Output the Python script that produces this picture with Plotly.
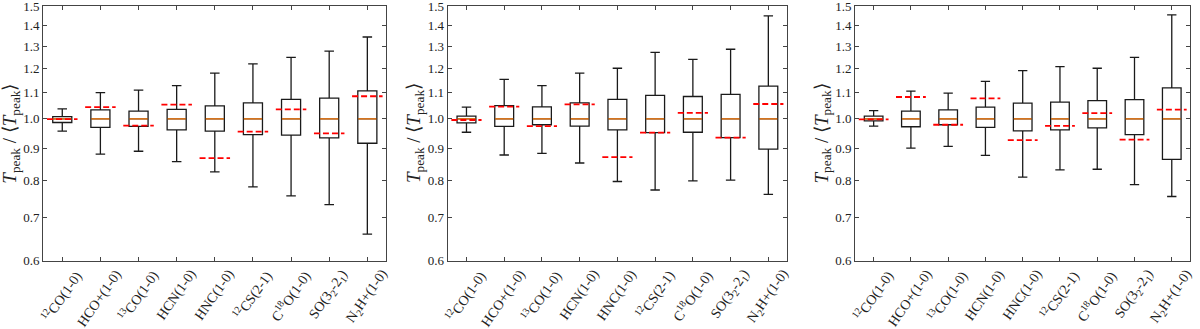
import math

import plotly.graph_objects as go

# カテゴリ (分子輝線)
lines = [
    "<sup>12</sup>CO(1-0)", "HCO+(1-0)", "<sup>13</sup>CO(1-0)", "HCN(1-0)",
    "HNC(1-0)", "<sup>12</sup>CS(2-1)", "C<sup>18</sup>O(1-0)",
    "SO(3<sub>2</sub>-2<sub>1</sub>)", "N<sub>2</sub>H+(1-0)",
]

# パネル1
p1_low = [0.957, 0.881, 0.890, 0.857, 0.826, 0.783, 0.758, 0.734, 0.660]
p1_q1 = [0.987, 0.970, 0.973, 0.961, 0.957, 0.945, 0.943, 0.934, 0.916]
p1_med = [1.0, 1.0, 1.0, 1.0, 1.0, 1.0, 1.0, 1.0, 1.0]
p1_q3 = [1.008, 1.033, 1.028, 1.035, 1.048, 1.059, 1.073, 1.078, 1.106]
p1_high = [1.037, 1.099, 1.109, 1.127, 1.179, 1.219, 1.248, 1.276, 1.343]
p1_ref = [0.999, 1.043, 0.976, 1.053, 0.868, 0.955, 1.035, 0.949, 1.085]

# パネル2
p2_low = [0.953, 0.878, 0.883, 0.853, 0.798, 0.774, 0.800, 0.802, 0.762]
p2_q1 = [0.986, 0.973, 0.979, 0.974, 0.961, 0.952, 0.953, 0.935, 0.897]
p2_med = [1.0, 1.0, 1.0, 1.0, 1.0, 1.0, 1.0, 1.0, 1.0]
p2_q3 = [1.010, 1.049, 1.044, 1.059, 1.073, 1.088, 1.084, 1.092, 1.125]
p2_high = [1.043, 1.153, 1.127, 1.179, 1.200, 1.271, 1.239, 1.285, 1.449]
p2_ref = [0.996, 1.045, 0.974, 1.054, 0.871, 0.952, 1.022, 0.935, 1.055]

# パネル3
p3_low = [0.974, 0.900, 0.906, 0.877, 0.811, 0.832, 0.834, 0.789, 0.756]
p3_q1 = [0.993, 0.972, 0.979, 0.970, 0.958, 0.961, 0.968, 0.945, 0.864]
p3_med = [1.0, 1.0, 1.0, 1.0, 1.0, 1.0, 1.0, 1.0, 1.0]
p3_q3 = [1.010, 1.028, 1.033, 1.043, 1.058, 1.062, 1.068, 1.072, 1.118]
p3_high = [1.030, 1.105, 1.097, 1.145, 1.190, 1.207, 1.200, 1.248, 1.454]
p3_ref = [0.998, 1.082, 0.979, 1.077, 0.926, 0.975, 1.021, 0.928, 1.034]

y_ticks = [0.6, 0.7, 0.8, 0.9, 1.0, 1.1, 1.2, 1.3, 1.4, 1.5]

panels = [
    (p1_low, p1_q1, p1_med, p1_q3, p1_high, p1_ref),
    (p2_low, p2_q1, p2_med, p2_q3, p2_high, p2_ref),
    (p3_low, p3_q1, p3_med, p3_q3, p3_high, p3_ref),
]
domains = [(0.036, 0.322), (0.373, 0.656), (0.7125, 0.992)]

FONT = "Liberation Serif"
AX_COLOR = "#444444"
pos = list(range(len(lines)))

fig = go.Figure()
layout = {}
annotations = []

for k, (low, q1, med, q3, high, ref) in enumerate(panels):
    sfx = "" if k == 0 else str(k + 1)
    xa, ya = "x" + sfx, "y" + sfx

    fig.add_trace(go.Box(
        x=pos, q1=q1, median=med, q3=q3, lowerfence=low, upperfence=high,
        xaxis=xa, yaxis=ya,
        width=0.5, whiskerwidth=0.5,
        line={"color": "#1a1a1a", "width": 1.3},
        fillcolor="rgba(0,0,0,0)",
        boxpoints=False, hoverinfo="skip",
    ))

    # 中央値 (オレンジ)
    mx, my = [], []
    for i, m in zip(pos, med):
        mx += [i - 0.24, i + 0.24, None]
        my += [m, m, None]
    fig.add_trace(go.Scatter(
        x=mx, y=my, mode="lines", xaxis=xa, yaxis=ya,
        line={"color": "#ff7f0e", "width": 1.2}, hoverinfo="skip",
    ))

    # 参照値 (赤破線)
    rx, ry = [], []
    for i, r in zip(pos, ref):
        rx += [i - 0.4, i + 0.4, None]
        ry += [r, r, None]
    fig.add_trace(go.Scatter(
        x=rx, y=ry, mode="lines", xaxis=xa, yaxis=ya,
        line={"color": "#ff0000", "width": 1.8, "dash": "6px,3px"},
        hoverinfo="skip",
    ))

    layout["xaxis" + sfx] = {
        "domain": list(domains[k]), "anchor": ya,
        "range": [-0.5, len(lines) - 0.5],
        "tickvals": pos, "showticklabels": False,
        "ticks": "inside", "ticklen": 4, "tickcolor": AX_COLOR,
        "showline": True, "linecolor": AX_COLOR, "linewidth": 1,
        "mirror": "ticks", "showgrid": False, "zeroline": False,
        "automargin": False,
    }
    layout["yaxis" + sfx] = {
        "domain": [0, 1], "anchor": xa, "type": "log",
        "range": [math.log10(0.6) - 0.0005, math.log10(1.5) + 0.0005],
        "tickvals": y_ticks, "ticktext": [f"{v:.1f}" for v in y_ticks],
        "ticks": "inside", "ticklen": 4, "tickcolor": AX_COLOR,
        "showline": True, "linecolor": AX_COLOR, "linewidth": 1,
        "mirror": "ticks", "showgrid": False, "zeroline": False,
        "automargin": False, "ticklabeloverflow": "allow",
        "tickfont": {"size": 13, "color": "#222"},
    }

    # 回転したカテゴリラベル (中央揃え)
    for i, name in zip(pos, lines):
        annotations.append({
            "text": name, "xref": xa, "yref": ya + " domain",
            "x": i, "y": 0, "yshift": -3,
            "xanchor": "center", "yanchor": "top",
            "textangle": -55, "showarrow": False,
            "font": {"size": 14, "color": "#222", "family": FONT},
        })

    annotations.append({
        "text": "<i>T</i><sub>peak</sub> / ⟨<i>T</i><sub>peak</sub>⟩",
        "xref": "paper", "yref": "paper",
        "x": domains[k][0] - 33 / 1200, "y": 0.5,
        "xanchor": "center", "yanchor": "middle",
        "textangle": -90, "showarrow": False,
        "font": {"size": 19, "color": "#222", "family": FONT},
    })

fig.update_layout(
    **layout,
    annotations=annotations,
    width=1200, height=329,
    margin={"l": 0, "r": 0, "t": 6, "b": 68},
    showlegend=False,
    plot_bgcolor="white", paper_bgcolor="white",
    font={"family": FONT, "color": "#222"},
)

fig.write_html(
    "out.html",
    config={"displayModeBar": False},
    post_script="document.body.style.margin='0';",
)
